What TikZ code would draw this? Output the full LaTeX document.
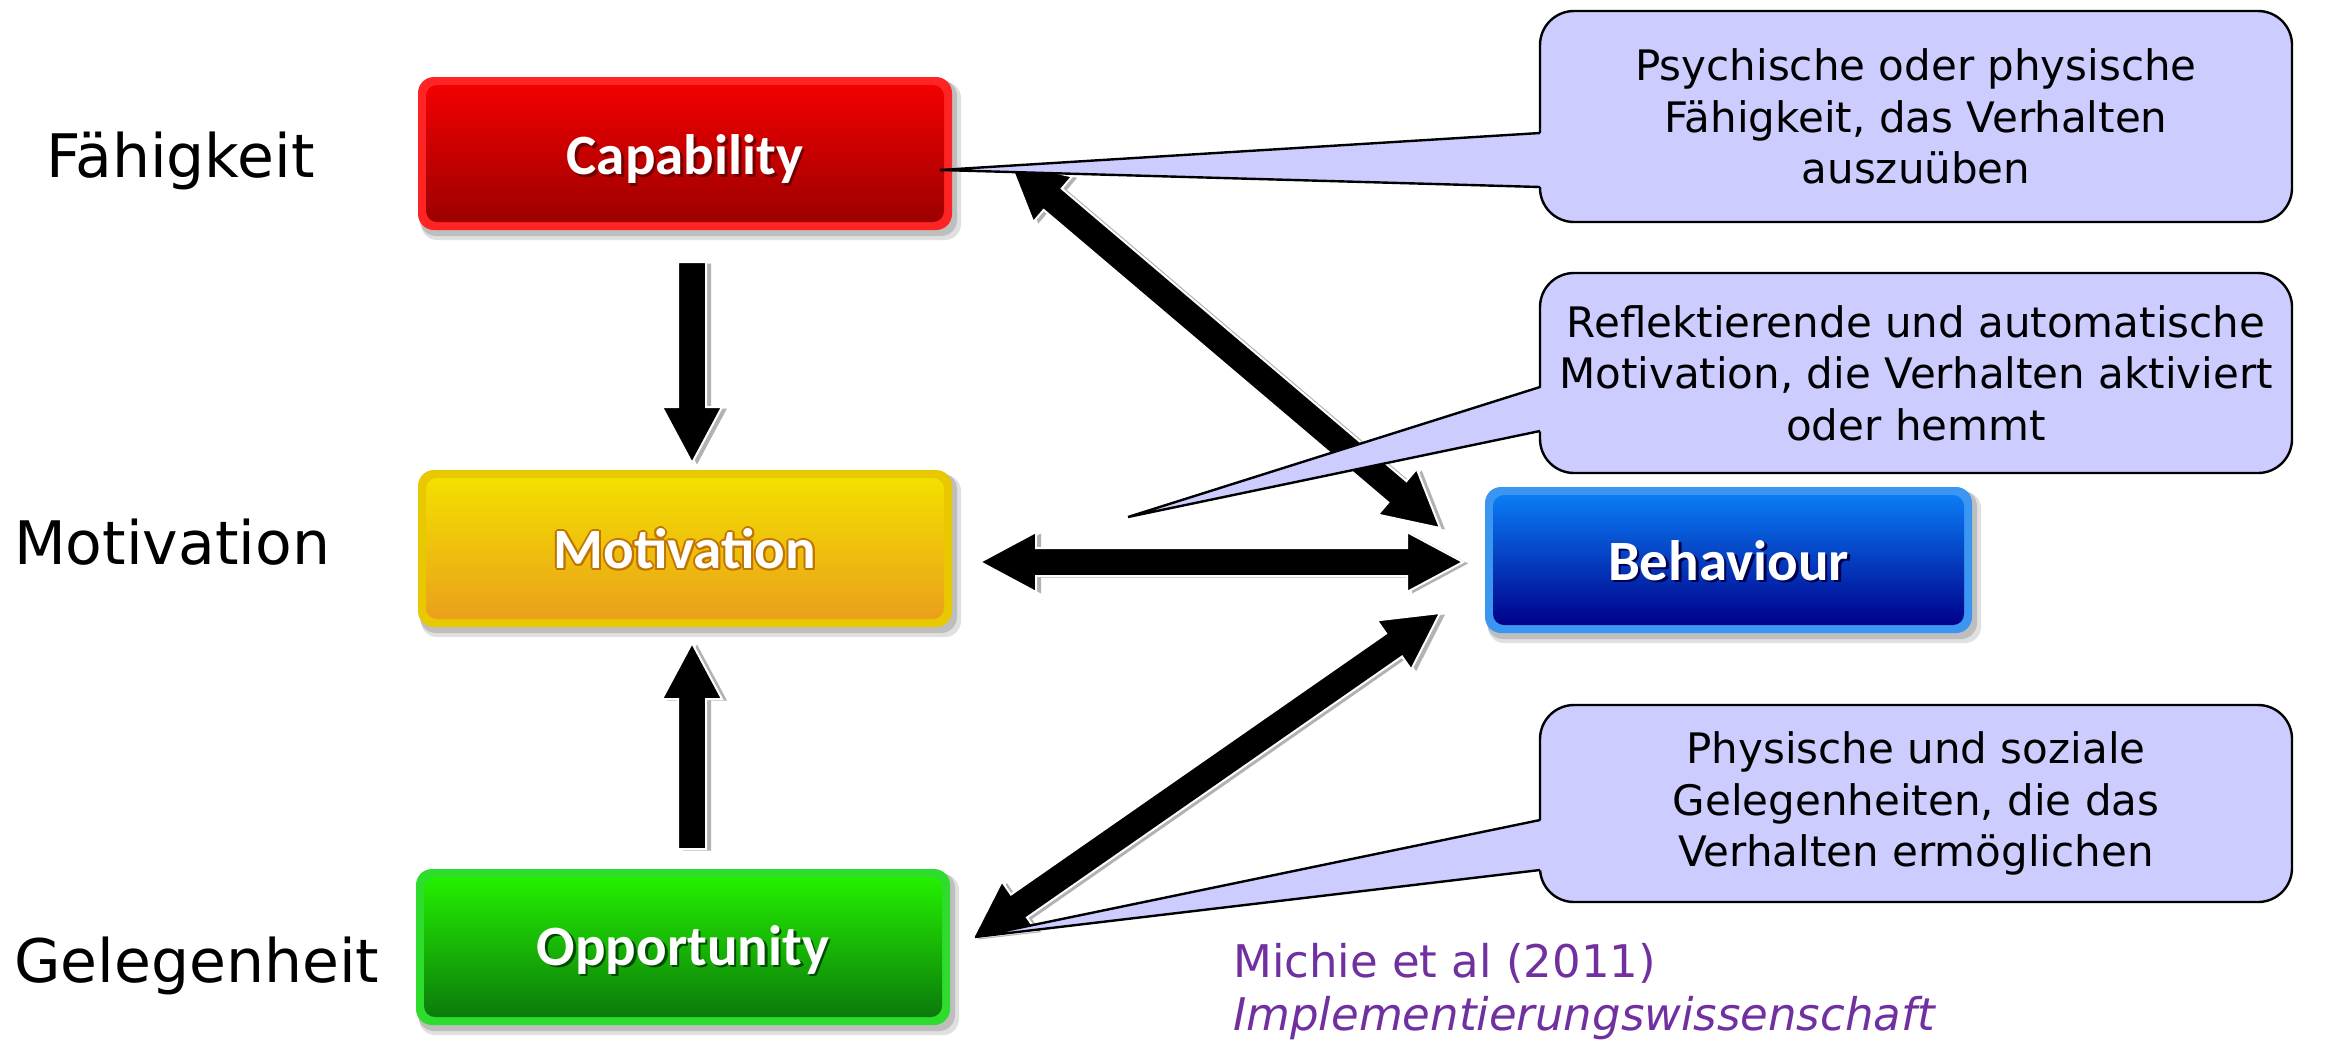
\documentclass[tikz,border=0pt]{standalone}
\usepackage{fontspec}
\setmainfont{DejaVu Sans}
\newfontfamily\boxfont{Carlito}
\usetikzlibrary{calc}
\definecolor{calloutfill}{HTML}{CCCCFF}
\definecolor{refpurple}{HTML}{7030A0}
\definecolor{capborder}{HTML}{FF2424}
\definecolor{captop}{HTML}{F20000}
\definecolor{capbot}{HTML}{9C0000}
\definecolor{motborder}{HTML}{E8C800}
\definecolor{mottop}{HTML}{F3E000}
\definecolor{motbot}{HTML}{EAA01A}
\definecolor{motoutline}{HTML}{C27400}
\definecolor{oppborder}{HTML}{2EDC2E}
\definecolor{opptop}{HTML}{24F000}
\definecolor{oppbot}{HTML}{0B7A0B}
\definecolor{behborder}{HTML}{3A96F0}
\definecolor{behtop}{HTML}{0A7CF5}
\definecolor{behbot}{HTML}{00008A}
\tikzset{
  lbl/.style={anchor=base west, font=\fontsize{60}{72}\selectfont, inner sep=0pt},
  cotext/.style={align=center, font=\fontsize{42}{51.5}\selectfont, inner sep=0pt},
  boxtxt/.style={font=\boxfont\bfseries\fontsize{57}{66}\selectfont, text=white, inner sep=0pt, anchor=base},
  reftxt/.style={anchor=base west, font=\fontsize{45}{54}\selectfont, text=refpurple, inner sep=0pt},
  arrowshadow/.style={fill=black!30},
  fatarrowstyle/.style={fill=black, draw=white, line width=2pt},
  calloutbox/.style={fill=calloutfill, draw=black, line width=2.4pt, rounded corners=34pt},
  pointeredge/.style={draw=black, line width=2.4pt, line join=miter},
}
% glossy box: name, x1, y1, x2, y2, border, top, bottom
\newcommand\glossbox[8]{%
  \fill[black, opacity=0.12, rounded corners=16pt] (#2+3,#3+5) rectangle (#4+9,#5+10);
  \fill[black, opacity=0.15, rounded corners=16pt] (#2+2,#3+3) rectangle (#4+5,#5+6);
  \fill[#6, rounded corners=16pt] (#2,#3) rectangle (#4,#5);
  \shade[top color=#7, bottom color=#8, rounded corners=11pt] (#2+8,#3+8) rectangle (#4-8,#5-8);
  \node[inner sep=0pt, minimum width={#4pt-#2pt}, minimum height={#5pt-#3pt}] (#1) at ({(#2+#4)/2},{(#3+#5)/2}) {};
}
% single fat arrow: tail, tip, prefix
\newcommand\fatarrow[3]{%
  \coordinate (#3hb) at ($(#2)!56pt!(#1)$);
  \coordinate (#3p1) at ($(#1)!14pt!90:(#2)$);
  \coordinate (#3p2) at ($(#3hb)!14pt!-90:(#1)$);
  \coordinate (#3p3) at ($(#3hb)!30pt!-90:(#1)$);
  \coordinate (#3p4) at ($(#3hb)!30pt!90:(#1)$);
  \coordinate (#3p5) at ($(#3hb)!14pt!90:(#1)$);
  \coordinate (#3p6) at ($(#1)!14pt!-90:(#2)$);
  \begin{scope}[transform canvas={shift={(5pt,-1.5pt)}}]
    \fill[arrowshadow] (#3p1) -- (#3p2) -- (#3p3) -- (#2) -- (#3p4) -- (#3p5) -- (#3p6) -- cycle;
  \end{scope}
  \filldraw[fatarrowstyle] (#3p1) -- (#3p2) -- (#3p3) -- (#2) -- (#3p4) -- (#3p5) -- (#3p6) -- cycle;
}
% double fat arrow: end A, end B, prefix
\newcommand\dblarrow[3]{%
  \coordinate (#3ha) at ($(#1)!56pt!(#2)$);
  \coordinate (#3hb) at ($(#2)!56pt!(#1)$);
  \coordinate (#3q1) at ($(#3ha)!30pt!90:(#2)$);
  \coordinate (#3q2) at ($(#3ha)!14pt!90:(#2)$);
  \coordinate (#3q3) at ($(#3hb)!14pt!-90:(#1)$);
  \coordinate (#3q4) at ($(#3hb)!30pt!-90:(#1)$);
  \coordinate (#3q5) at ($(#3hb)!30pt!90:(#1)$);
  \coordinate (#3q6) at ($(#3hb)!14pt!90:(#1)$);
  \coordinate (#3q7) at ($(#3ha)!14pt!-90:(#2)$);
  \coordinate (#3q8) at ($(#3ha)!30pt!-90:(#2)$);
  \begin{scope}[transform canvas={shift={(5pt,-1.5pt)}}]
    \fill[arrowshadow] (#1) -- (#3q1) -- (#3q2) -- (#3q3) -- (#3q4) -- (#2) -- (#3q5) -- (#3q6) -- (#3q7) -- (#3q8) -- cycle;
  \end{scope}
  \filldraw[fatarrowstyle] (#1) -- (#3q1) -- (#3q2) -- (#3q3) -- (#3q4) -- (#2) -- (#3q5) -- (#3q6) -- (#3q7) -- (#3q8) -- cycle;
}
% callout: name, L, T, R, B, root1 y, root2 y, tip coordinate name
\newcommand\callout[8]{%
  \draw[calloutbox] (#2,#3) rectangle (#4,#5);
  \node[inner sep=0pt, minimum width={#4pt-#2pt}, minimum height={#5pt-#3pt}] (#1) at ({(#2+#4)/2},{(#3+#5)/2}) {};
  \fill[calloutfill] (#2+3,#6) -- (#8) -- (#2+3,#7) -- cycle;
  \draw[pointeredge] (#2,#6) -- (#8) -- (#2,#7);
}
\begin{document}
\begin{tikzpicture}[x=1pt,y=-1pt]
\useasboundingbox (0,0) rectangle (2328,1042);
\fill[white] (0,0) rectangle (2328,1042);

% left labels
\node[lbl] (lf) at (46,177) {Fähigkeit};
\node[lbl] (lm) at (14,564) {Motivation};
\node[lbl] (lg) at (14,982) {Gelegenheit};

% boxes
\glossbox{cap}{418}{77}{952}{230}{capborder}{captop}{capbot}
\glossbox{mot}{418}{470}{952}{627}{motborder}{mottop}{motbot}
\glossbox{opp}{416}{869}{950}{1025}{oppborder}{opptop}{oppbot}
\glossbox{beh}{1485}{487}{1972}{633}{behborder}{behtop}{behbot}

% box texts
\node[boxtxt, text=red!45!black] at ($(cap.center)+(2.5,23.5)$) {Capability};
\node[boxtxt] (capt) at ($(cap.center)+(0,21)$) {Capability};
\foreach \dx/\dy in {-2/0,2/0,0/-2,0/2,-1.5/-1.5,1.5/1.5,-1.5/1.5,1.5/-1.5}
  \node[boxtxt, text=motoutline] at ($(mot.center)+(\dx,20+\dy)$) {Motivation};
\node[boxtxt] (mott) at ($(mot.center)+(0,20)$) {Motivation};
\node[boxtxt, text=green!30!black] at ($(opp.center)+(2.5,20.5)$) {Opportunity};
\node[boxtxt] (oppt) at ($(opp.center)+(0,18)$) {Opportunity};
\node[boxtxt, text=blue!30!black] at ($(beh.center)+(2.5,22.5)$) {Behaviour};
\node[boxtxt] (beht) at ($(beh.center)+(0,20)$) {Behaviour};

% arrow end points
\coordinate (cmA) at (692,262);
\coordinate (cmB) at (692,463);
\coordinate (omA) at (692,849);
\coordinate (omB) at (692,643);
\coordinate (mbA) at (980,562);
\coordinate (mbB) at (1463,562);
\coordinate (cbA) at (1010,163);
\coordinate (cbB) at (1440,528);
\coordinate (obA) at (973,938);
\coordinate (obB) at (1440,613);

\fatarrow{cmA}{cmB}{cm}
\fatarrow{omA}{omB}{om}
\dblarrow{mbA}{mbB}{mb}
\dblarrow{cbA}{cbB}{cb}
\dblarrow{obA}{obB}{ob}

% callouts
\coordinate (t1) at (940,170);
\coordinate (t2) at (1128,517);
\coordinate (t3) at (975,937);
\callout{co1}{1540}{11}{2292}{222}{133}{187}{t1}
\callout{co2}{1540}{273}{2292}{473}{387}{431}{t2}
\callout{co3}{1540}{705}{2292}{902}{820}{870}{t3}
\node[cotext] (co1t) at (co1.center) {Psychische oder physische\\Fähigkeit, das Verhalten\\auszuüben};
\node[cotext] (co2t) at (co2.center) {Reflektierende und automatische\\Motivation, die Verhalten aktiviert\\oder hemmt};
\node[cotext] (co3t) at (co3.center) {Physische und soziale\\Gelegenheiten, die das\\Verhalten ermöglichen};

% reference
\node[reftxt] (ref1) at (1233,977) {Michie et al (2011)};
\node[reftxt, font=\fontsize{45}{54}\selectfont\itshape] (ref2) at (1233,1030) {Implementierungswissenschaft};
\end{tikzpicture}
\end{document}
